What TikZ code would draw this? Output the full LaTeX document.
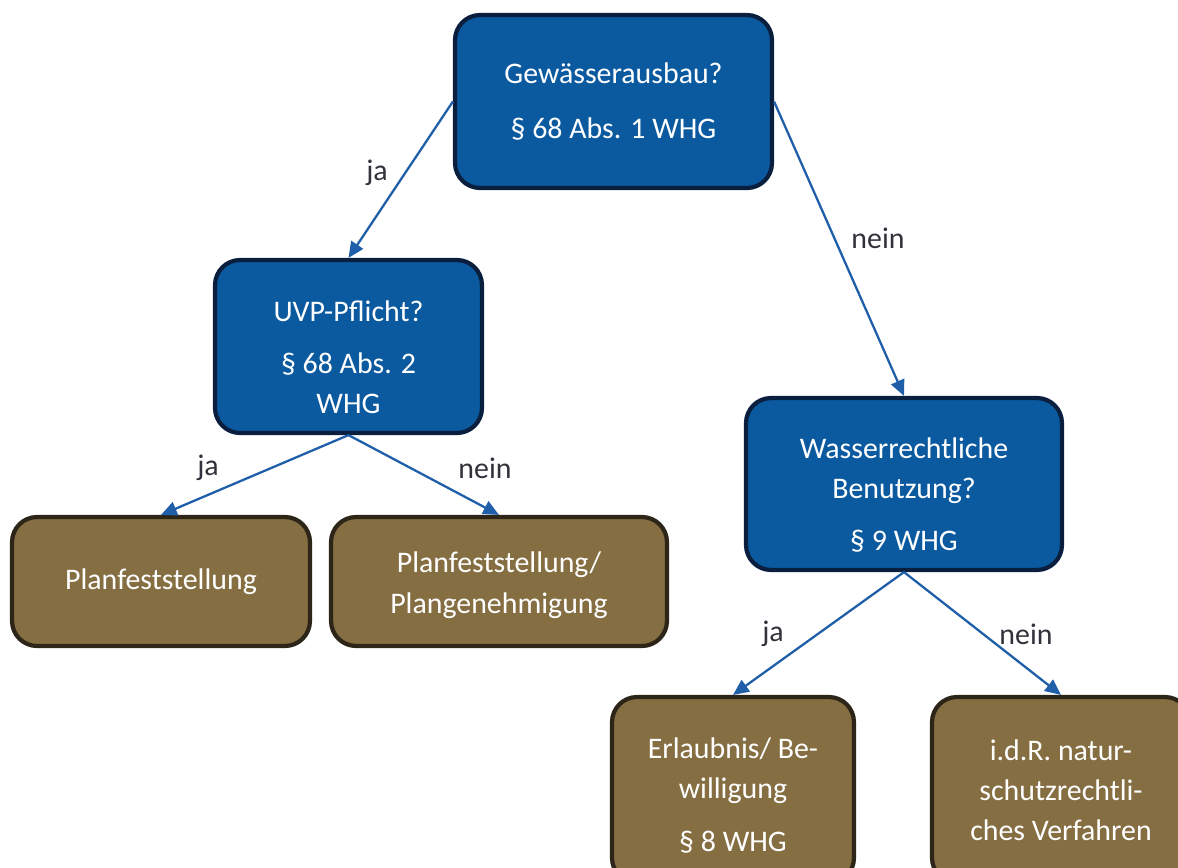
\documentclass[tikz,border=0pt]{standalone}
\usepackage{fontspec}
\setmainfont{Carlito}
\usetikzlibrary{arrows.meta}
\definecolor{bluefill}{RGB}{11,90,160}
\definecolor{blueborder}{RGB}{10,30,62}
\definecolor{brownfill}{RGB}{133,110,66}
\definecolor{brownborder}{RGB}{44,37,24}
\definecolor{arrowblue}{RGB}{31,94,168}
\definecolor{labelgray}{RGB}{50,50,60}
\tikzset{
  boxbase/.style={rectangle, rounded corners=0.5cm, line width=2.4pt, align=center,
    text=white, inner sep=2pt, font=\fontsize{17}{22.8}\selectfont},
  bluebox/.style={boxbase, fill=bluefill, draw=blueborder},
  brownbox/.style={boxbase, fill=brownfill, draw=brownborder},
  conn/.style={draw=arrowblue, line width=1.3pt, -{Triangle[length=9pt,width=8pt]}},
  lbl/.style={text=labelgray, font=\fontsize{17}{22.5}\selectfont, inner sep=0pt}
}
\begin{document}
\begin{tikzpicture}[x=0.02cm,y=-0.02cm]
\useasboundingbox (0,0) rectangle (1178,867);
\begin{scope}
\clip (0,0) rectangle (1178,867);
\node[bluebox, minimum width=6.34cm, minimum height=3.46cm] (top) at (613.5,101.5)
  {Gewässerausbau?\\[8pt]§ 68 Abs. 1 WHG};
\node[bluebox, minimum width=5.34cm, minimum height=3.46cm] (uvp) at (348.5,346.5)
  {\rule{0pt}{24pt}UVP-Pflicht?\\[7pt]§ 68 Abs. 2\\WHG};
\node[bluebox, minimum width=6.32cm, minimum height=3.44cm] (wasser) at (904,484)
  {\rule{0pt}{24pt}Wasserrechtliche\\Benutzung?\\[7pt]§ 9 WHG};
\node[brownbox, minimum width=5.96cm, minimum height=2.58cm] (plan1) at (161,581.5)
  {Planfeststellung};
\node[brownbox, minimum width=6.72cm, minimum height=2.58cm] (plan2) at (499,581.5)
  {\rule{0pt}{16pt}Planfeststellung/\\Plangenehmigung};
\node[brownbox, minimum width=4.84cm, minimum height=3.72cm] (erl) at (733,790)
  {\rule{0pt}{18pt}Erlaubnis/ Be-\\willigung\\[7pt]§ 8 WHG};
\node[brownbox, minimum width=5.16cm, minimum height=3.72cm] (idr) at (1061,790)
  {i.d.R. natur-\\schutzrechtli-\\ches Verfahren};
\end{scope}
\draw[conn] (top.west) -- (uvp.north);
\draw[conn] (top.east) -- (wasser.north);
\draw[conn] (uvp.south) -- (plan1.north);
\draw[conn] (uvp.south) -- (plan2.north);
\draw[conn] (wasser.south) -- (erl.north);
\draw[conn] (wasser.south) -- (idr.north);
\node[lbl] (l1) at (377,173) {ja};
\node[lbl] (l2) at (878,238) {nein};
\node[lbl] (l3) at (208,468) {ja};
\node[lbl] (l4) at (485,468) {nein};
\node[lbl] (l5) at (773,634) {ja};
\node[lbl] (l6) at (1026,634) {nein};
\end{tikzpicture}
\end{document}
